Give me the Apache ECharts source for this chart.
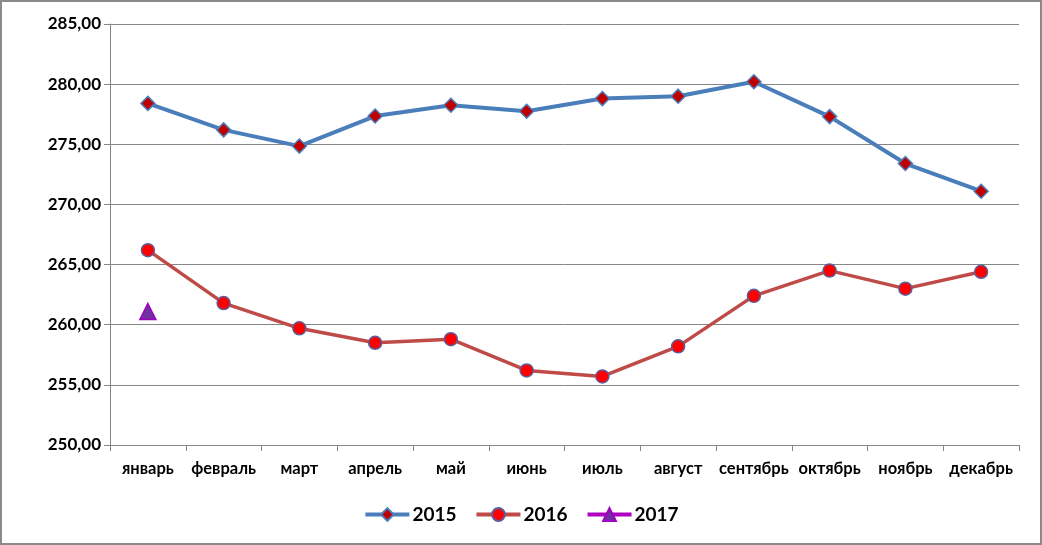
<!DOCTYPE html>
<html><head><meta charset="utf-8">
<script src="https://cdn.jsdelivr.net/npm/echarts@6/dist/echarts.min.js"></script>
<style>html,body{margin:0;padding:0;background:#fff}#c{width:1042px;height:545px;box-sizing:border-box;border:2px solid #8a8a8a}</style>
</head><body><div id="c"></div>
<script>
const months = ['январь','февраль','март','апрель','май','июнь','июль','август','сентябрь','октябрь','ноябрь','декабрь'];
const s2015 = [278.4,276.2,274.85,277.35,278.25,277.75,278.8,279.0,280.2,277.3,273.4,271.1];
const s2016 = [266.2,261.8,259.7,258.5,258.8,256.2,255.7,258.2,262.4,264.5,263.0,264.4];
const s2017 = [261.1,null,null,null,null,null,null,null,null,null,null,null];
const yMin = 250, yMax = 285, yStep = 5;
const font = 'Lato, "Open Sans", "DejaVu Sans", sans-serif';
const chart = echarts.init(document.getElementById('c'));
chart.setOption({
  animation:false,
  grid:{left:108,right:21,top:22,bottom:98,containLabel:false},
  xAxis:{type:'category',data:months,boundaryGap:true,
    axisLine:{lineStyle:{color:'#868686',width:1}},
    axisTick:{show:true,length:6,lineStyle:{color:'#868686'}},
    axisLabel:{color:'#000',fontFamily:font,fontWeight:'bold',fontSize:16.5,margin:15,interval:0}},
  yAxis:{type:'value',min:yMin,max:yMax,interval:yStep,
    axisLine:{show:true,lineStyle:{color:'#868686',width:1}},
    axisTick:{show:true,length:6,lineStyle:{color:'#868686'}},
    splitLine:{lineStyle:{color:'#868686',width:1}},
    axisLabel:{color:'#000',fontFamily:font,fontWeight:'bold',fontSize:17,margin:9,
      formatter:v=>v.toFixed(2).replace('.',',')}},
  legend:{bottom:14,left:'center',itemGap:18,itemWidth:44,itemHeight:16,
    textStyle:{color:'#000',fontFamily:font,fontWeight:'bold',fontSize:19,padding:[0,0,0,-2]},
    data:[
      {name:'2015',lineStyle:{width:4}},
      {name:'2016',lineStyle:{width:4}},
      {name:'2017',lineStyle:{width:4}}
    ]},
  series:[
    {name:'2015',type:'line',data:s2015,symbol:'diamond',symbolSize:14,
      lineStyle:{color:'#4A7EBB',width:4},itemStyle:{color:'#C00000',borderColor:'#4A7EBB',borderWidth:1.5}},
    {name:'2016',type:'line',data:s2016,symbol:'circle',symbolSize:13,
      lineStyle:{color:'#BE4B48',width:3.5},itemStyle:{color:'#FF0000',borderColor:'#5B5E9A',borderWidth:1.5}},
    {name:'2017',type:'line',data:s2017,symbol:'triangle',symbolSize:16,
      lineStyle:{color:'#B000C0',width:3.5},itemStyle:{color:'#7030A0',borderColor:'#A000C0',borderWidth:1.5}}
  ]
});
</script></body></html>
